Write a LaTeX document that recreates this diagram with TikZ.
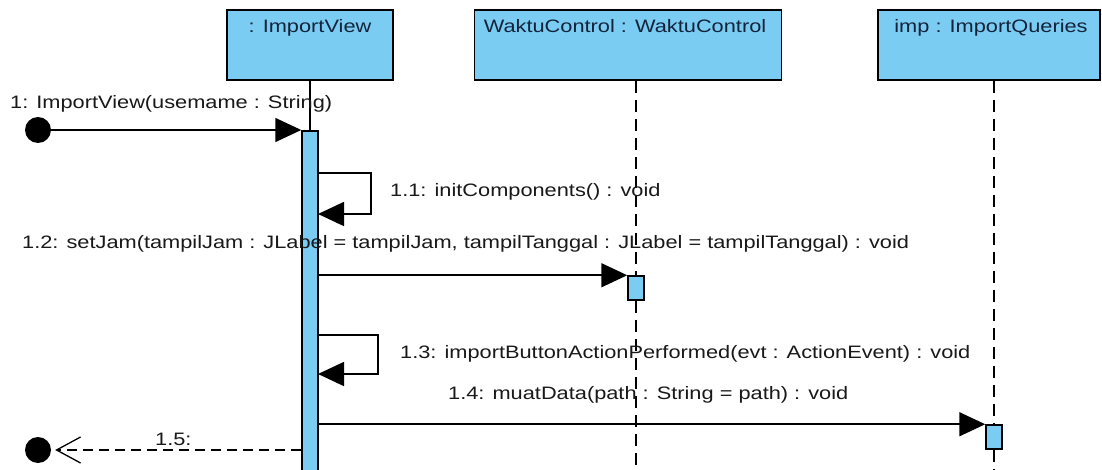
\documentclass[tikz,border=0pt]{standalone}
\usepackage{fontspec}
\setmainfont{Liberation Sans}[FakeStretch=1.21]
\usetikzlibrary{arrows.meta}
\definecolor{objblue}{RGB}{122,204,242}
\definecolor{objtext}{RGB}{20,35,60}
\definecolor{msgtext}{RGB}{25,25,25}
\begin{document}
\begin{tikzpicture}[x=1pt,y=-1pt,
  objbox/.style={draw=black, line width=1.8pt, fill=objblue, minimum width=#1, minimum height=70pt, inner sep=0pt},
  objlabel/.style={anchor=base, text=objtext, font=\fontsize{18}{20}\selectfont, inner sep=0pt},
  actbar/.style={draw=black, line width=1.5pt, fill=objblue, minimum width=16pt, minimum height=#1, inner sep=0pt},
  msglabel/.style={anchor=base west, text=msgtext, font=\fontsize{18}{20}\selectfont, inner sep=0pt},
  endpoint/.style={circle, fill=black, minimum size=26pt, inner sep=0pt},
  msg/.style={line width=1.6pt, -{Triangle[length=26pt,width=24pt]}},
  retmsg/.style={line width=1.5pt, dash pattern=on 10pt off 6pt, -{Straight Barb[length=24pt,width=26pt,line width=1.3pt]}},
  lifeline/.style={line width=1.5pt, dash pattern=on 12pt off 7pt}
]
\useasboundingbox (0,0) rectangle (1102,470);
\fill[white] (0,0) rectangle (1102,470);

% object boxes
\node[objbox=166pt] (iv) at (310,45) {};
\node[objbox=307pt] (wc) at (628,45) {};
\node[objbox=222pt] (imp) at (989,45) {};
\node[objlabel] (ivt) at (310,33) {: ImportView};
\node[objlabel] (wct) at (625,33) {WaktuControl : WaktuControl};
\node[objlabel] (impt) at (991,33) {imp : ImportQueries};

% activation bars
\node[actbar=350pt] (ivbar) at (310,306) {};
\node[actbar=24pt] (wcbar) at (636,288) {};
\node[actbar=24pt] (impbar) at (994,437) {};

% lifelines
\draw[line width=1.1pt] (iv.south) -- (ivbar.north);
\draw[lifeline] (wcbar |- wc.south) -- (wcbar.north);
\draw[lifeline] (wcbar.south) -- (636,475);
\draw[lifeline] (impbar |- imp.south) -- (impbar.north);
\draw[lifeline] (impbar.south) -- (994,475);

% endpoints
\node[endpoint] (start) at (38,130) {};
\node[endpoint] (finish) at (38,450) {};

% message 1
\draw[msg] (start.east) -- (start -| ivbar.west);
\node[msglabel] (m1) at (10,109) {1: ImportView(usemame : String)};

% message 1.1 (self)
\coordinate (a1) at (318,173);
\coordinate (b1) at (318,214);
\draw[msg] (a1) -- (371,173) |- (b1);
\node[msglabel] (m11) at (390,197) {1.1: initComponents() : void};

% message 1.2
\draw[msg] (ivbar.east |- wcbar.north) -- (wcbar.north west);
\node[msglabel] (m12) at (22,248) {1.2: setJam(tampilJam : JLabel = tampilJam, tampilTanggal : JLabel = tampilTanggal) : void};

% message 1.3 (self)
\coordinate (a3) at (318,335);
\coordinate (b3) at (318,374);
\draw[msg] (a3) -- (378,335) |- (b3);
\node[msglabel] (m13) at (400,358) {1.3: importButtonActionPerformed(evt : ActionEvent) : void};

% message 1.4
\draw[msg] (ivbar.east |- impbar.north) -- (impbar.north west);
\node[msglabel] (m14) at (448,399) {1.4: muatData(path : String = path) : void};

% message 1.5 (return)
\draw[retmsg, shorten >=4pt] (ivbar.west |- finish) -- (finish.east);
\node[msglabel] (m15) at (155,445) {1.5:};
\end{tikzpicture}
\end{document}
